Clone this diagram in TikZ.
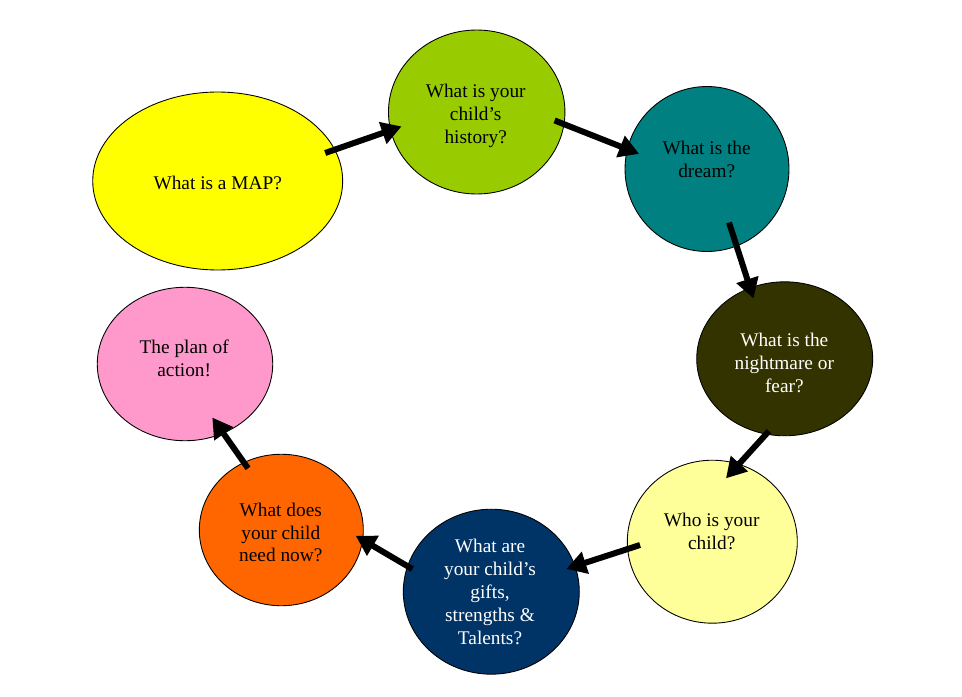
\documentclass[tikz,border=0pt]{standalone}
\usepackage{fontspec}
\setmainfont{Liberation Serif}
\usetikzlibrary{arrows.meta,shapes.geometric}
\definecolor{mapyellow}{HTML}{FFFF00}
\definecolor{histgreen}{HTML}{99CC00}
\definecolor{dreamteal}{HTML}{008080}
\definecolor{fearolive}{HTML}{333300}
\definecolor{whocream}{HTML}{FFFF99}
\definecolor{giftsnavy}{HTML}{003366}
\definecolor{needorange}{HTML}{FF6600}
\definecolor{planpink}{HTML}{FF99CC}
\tikzset{
  bubble/.style={ellipse, draw=black, line width=0.5pt, inner sep=0pt},
  words/.style={align=center, inner sep=0pt, font=\fontsize{11}{13}\selectfont},
  flow/.style={-{Triangle[length=0.4cm,width=0.44cm]}, line width=0.12cm}
}
\begin{document}
\begin{tikzpicture}[x=0.02cm,y=-0.02cm]
      \useasboundingbox (0,0) rectangle (962,696);
      \path
        (217.7,181) node[bubble, fill=mapyellow, minimum width=5cm, minimum height=3.56cm] (map){}
        (476.7,112) node[bubble, fill=histgreen, minimum width=3.53cm, minimum height=3.28cm] (hist){}
        (707,169) node[bubble, fill=dreamteal, minimum width=3.28cm, minimum height=3.3cm] (dream){}
        (784.7,358.8) node[bubble, fill=fearolive, minimum width=3.52cm, minimum height=3.08cm] (fear){}
        (712.3,541.7) node[bubble, fill=whocream, minimum width=3.4cm, minimum height=3.26cm] (who){}
        (491.3,591.7) node[bubble, fill=giftsnavy, minimum width=3.52cm, minimum height=3.3cm] (gifts){}
        (281.3,530) node[bubble, fill=needorange, minimum width=3.28cm, minimum height=3.03cm] (need){}
        (185,364) node[bubble, fill=planpink, minimum width=3.51cm, minimum height=3.07cm] (plan){};
      \path
        (217.7,183.2) node[words] (mapt){What is a MAP?}
        (475.7,116.2) node[words] (histt){What is your\\child’s\\history?}
        (706.7,159.4) node[words] (dreamt){What is the\\dream?}
        (784.3,363.2) node[words, text=white] (feart){What is the\\nightmare or\\fear?}
        (711.7,531.2) node[words] (whot){Who is your\\child?}
        (490,591.9) node[words, text=white] (giftst){What are\\your child’s\\gifts,\\strengths \&\\Talents?}
        (280.8,532.5) node[words] (needt){What does\\your child\\need now?}
        (184.2,358.2) node[words] (plant){The plan of\\action!};
      \begin{scope}[flow]
        \draw[shorten <=-0.21cm, shorten >=-0.24cm] (map.15) to (hist.192);
        \draw[shorten <=-0.21cm, shorten >=-0.26cm] (hist.352) to (dream.166);
        \draw[shorten <=-0.5cm, shorten >=-0.23cm] (dream.291) to (fear.116);
        \draw[shorten <=-0.09cm, shorten >=-0.39cm] (fear.256) to (who.71);
        \draw[shorten <=-0.27cm, shorten >=-0.19cm] (who.185) to (gifts.17);
        \draw[shorten <=-0.12cm, shorten >=-0.17cm] (gifts.163) to (need.353);
        \draw[shorten <=-0.15cm, shorten >=-0.39cm] (need.119) to (plan.299);
      \end{scope}
    \end{tikzpicture}
\end{document}
